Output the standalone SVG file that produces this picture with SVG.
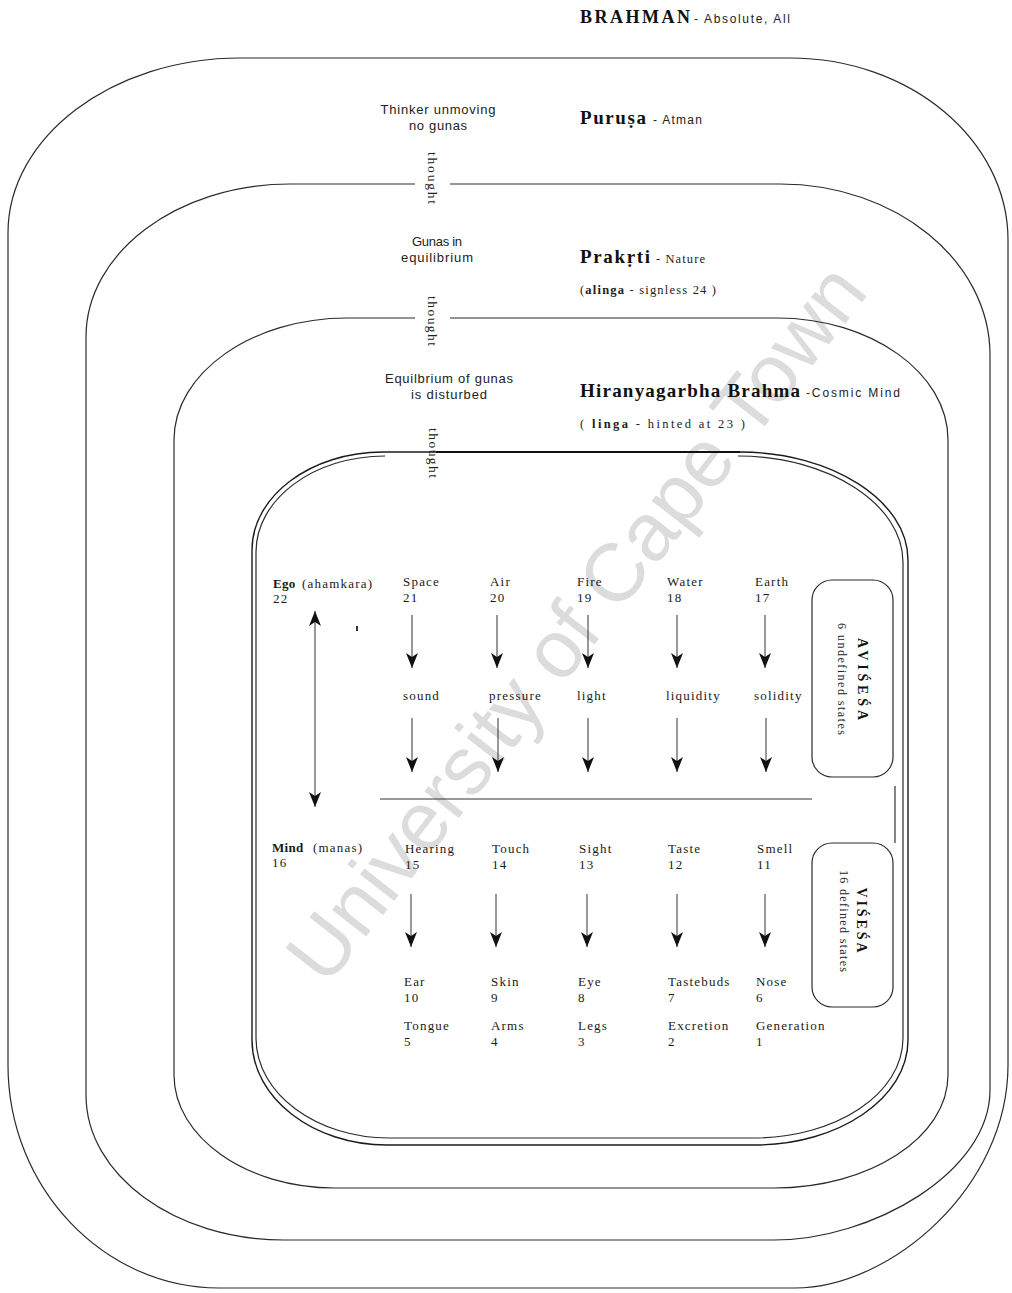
<svg xmlns="http://www.w3.org/2000/svg" width="1012" height="1293" viewBox="0 0 1012 1293">
<defs>
<style>
.bg{fill:#fff}
.wm{font-family:"Liberation Sans",Arial,sans-serif;font-size:82px;fill:#dcdcdc}
.ring{fill:none;stroke:#2a2a2a;stroke-width:1.2}
.ring2{fill:none;stroke:#1a1a1a;stroke-width:1.4}
.title{font-family:"Liberation Serif","Times New Roman",serif;font-weight:bold;fill:#111}
.sub{font-family:"Liberation Sans",Arial,sans-serif;font-size:12px;fill:#222}
.subs{font-family:"Liberation Serif","Times New Roman",serif;font-size:12.5px;fill:#222}
.sans{font-family:"Liberation Sans",Arial,sans-serif;font-size:13px;fill:#222}
.th{font-family:"Liberation Serif","Times New Roman",serif;font-size:13.5px;fill:#222}
.lbl{font-family:"Liberation Serif","Times New Roman",serif;font-size:13px;letter-spacing:1.2px;fill:#1a1a1a}
.b{font-weight:bold;letter-spacing:0.3px}
.box{fill:none;stroke:#2a2a2a;stroke-width:1.2}
.boxt{font-family:"Liberation Serif","Times New Roman",serif;font-size:14px;font-weight:bold;fill:#111}
.boxs{font-family:"Liberation Serif","Times New Roman",serif;font-size:12px;fill:#222}
.arr{fill:none;stroke:#333;stroke-width:1;marker-end:url(#ah)}
.arr2{fill:none;stroke:#333;stroke-width:1;marker-end:url(#ah);marker-start:url(#ah)}
.line{fill:none;stroke:#333;stroke-width:1.2}
</style>
<marker id="ah" markerUnits="userSpaceOnUse" markerWidth="20" markerHeight="16" viewBox="-16 -8 18 16" refX="0" refY="0" orient="auto-start-reverse">
<path d="M0,0 L-15,-6 L-11,0 L-15,6 Z" fill="#111"/>
</marker>
</defs>
<rect class="bg" x="0" y="0" width="1012" height="1293"/>
<text class="wm" transform="translate(598,640) rotate(-52)" text-anchor="middle">University of Cape Town</text>

<g id="brahman">
<path class="ring" d="M240,58 L790,58 C910,58 1008,140 1008,240 L1008,1065 C1008,1188 890,1288 795,1288 L219,1288 C104,1288 8,1188 8,1065 L8,233 C8,137 112,58 240,58 Z"/>
<text class="title" x="580" y="23" font-size="18" textLength="110" lengthAdjust="spacing">BRAHMAN</text>
<text class="sub" x="694" y="23" textLength="96" lengthAdjust="spacing">- Absolute, All</text>
</g>

<g id="purusa">
<path class="ring" d="M450,184 L780,184 C896,184 990,261 990,355 L990,1090 C990,1173 871,1240 774,1240 L284,1240 C175,1240 86,1175 86,1095 L86,337 C86,253 177,184 290,184 L415,184"/>
<text class="sans" x="438" y="114" text-anchor="middle" textLength="115" lengthAdjust="spacing">Thinker unmoving</text>
<text class="sans" x="438" y="130" text-anchor="middle" textLength="58" lengthAdjust="spacing">no gunas</text>
<text class="title" x="580" y="124" font-size="19" textLength="66" lengthAdjust="spacing">Puruṣa</text>
<text class="sub" x="653" y="124" textLength="49" lengthAdjust="spacing">- Atman</text>
</g>

<g id="prakrti">
<path class="ring" d="M450,318 L777,318 C871,318 948,373 948,440 L948,1075 C948,1137 870,1188 774,1188 L335,1188 C246,1188 174,1137 174,1075 L174,440 C174,373 252,318 347,318 L415,318"/>
<text class="sans" x="437" y="246" text-anchor="middle" textLength="50" lengthAdjust="spacing">Gunas in</text>
<text class="sans" x="437" y="262" text-anchor="middle" textLength="72" lengthAdjust="spacing">equilibrium</text>
<text class="title" x="580" y="263" font-size="19" textLength="70" lengthAdjust="spacing">Prakṛti</text>
<text class="subs" x="656" y="263" textLength="49" lengthAdjust="spacing">- Nature</text>
<text class="subs" x="580" y="294" textLength="136" lengthAdjust="spacing">(<tspan font-weight="bold">alinga</tspan> - signless 24 )</text>
</g>

<g id="hiranyagarbha">
<path class="ring2" d="M383,452 L740,452 C832,452 908,501 908,560 L908,1040 C908,1098 839,1145 755,1145 L387,1145 C313,1145 252,1098 252,1040 L252,550 C252,496 311,452 383,452 Z"/>
<path class="ring" d="M738,456 C828,456 903,504 903,562 L903,1038 C903,1094 836,1138 753,1138 L389,1138 C317,1138 256,1094 256,1038 L256,552 C256,499 314,456 385,456"/>
<line x1="436" y1="452" x2="740" y2="452" stroke="#111" stroke-width="2.2"/>
<text class="sans" x="449" y="383" text-anchor="middle" textLength="128" lengthAdjust="spacing">Equilbrium of gunas</text>
<text class="sans" x="449" y="399" text-anchor="middle" textLength="76" lengthAdjust="spacing">is disturbed</text>
<text class="title" x="580" y="397" font-size="19" textLength="220" lengthAdjust="spacing">Hiranyagarbha Brahma</text>
<text class="sub" x="806" y="397" textLength="94" lengthAdjust="spacing">-Cosmic Mind</text>
<text class="subs" x="580" y="428" textLength="165" lengthAdjust="spacing">( <tspan font-weight="bold">linga</tspan> - hinted at 23 )</text>
</g>

<g id="thought-labels">
<text class="th" transform="translate(428,178) rotate(90)" text-anchor="middle" textLength="52" lengthAdjust="spacing">thought</text>
<text class="th" transform="translate(428,321) rotate(90)" text-anchor="middle" textLength="50" lengthAdjust="spacing">thought</text>
<text class="th" transform="translate(429,453) rotate(90)" text-anchor="middle" textLength="50" lengthAdjust="spacing">thought</text>
</g>

<g id="ego"><text class="lbl" x="273" y="588"><tspan class="b">Ego</tspan><tspan x="302">(ahamkara)</tspan></text><text class="lbl" x="273" y="603">22</text></g>
<g id="space"><text class="lbl" x="403" y="586">Space</text><text class="lbl" x="403" y="602">21</text></g>
<g id="air"><text class="lbl" x="490" y="586">Air</text><text class="lbl" x="490" y="602">20</text></g>
<g id="fire"><text class="lbl" x="577" y="586">Fire</text><text class="lbl" x="577" y="602">19</text></g>
<g id="water"><text class="lbl" x="667" y="586">Water</text><text class="lbl" x="667" y="602">18</text></g>
<g id="earth"><text class="lbl" x="755" y="586">Earth</text><text class="lbl" x="755" y="602">17</text></g>

<g id="sound"><text class="lbl" x="403" y="700">sound</text></g>
<g id="pressure"><text class="lbl" x="489" y="700">pressure</text></g>
<g id="light"><text class="lbl" x="577" y="700">light</text></g>
<g id="liquidity"><text class="lbl" x="666" y="700">liquidity</text></g>
<g id="solidity"><text class="lbl" x="754" y="700">solidity</text></g>

<g id="avisesa">
<rect class="box" x="812" y="580" width="81" height="197" rx="20" ry="20"/>
<text class="boxt" transform="translate(858,679) rotate(90)" text-anchor="middle" textLength="82" lengthAdjust="spacing">AVIŚEŚA</text>
<text class="boxs" transform="translate(838,679) rotate(90)" text-anchor="middle" textLength="112" lengthAdjust="spacing">6 undefined states</text>
</g>

<g id="mind"><text class="lbl" x="272" y="852"><tspan class="b">Mind</tspan><tspan x="313">(manas)</tspan></text><text class="lbl" x="272" y="867">16</text></g>
<g id="hearing"><text class="lbl" x="405" y="853">Hearing</text><text class="lbl" x="405" y="869">15</text></g>
<g id="touch"><text class="lbl" x="492" y="853">Touch</text><text class="lbl" x="492" y="869">14</text></g>
<g id="sight"><text class="lbl" x="579" y="853">Sight</text><text class="lbl" x="579" y="869">13</text></g>
<g id="taste"><text class="lbl" x="668" y="853">Taste</text><text class="lbl" x="668" y="869">12</text></g>
<g id="smell"><text class="lbl" x="757" y="853">Smell</text><text class="lbl" x="757" y="869">11</text></g>

<g id="ear"><text class="lbl" x="404" y="986">Ear</text><text class="lbl" x="404" y="1002">10</text></g>
<g id="skin"><text class="lbl" x="491" y="986">Skin</text><text class="lbl" x="491" y="1002">9</text></g>
<g id="eye"><text class="lbl" x="578" y="986">Eye</text><text class="lbl" x="578" y="1002">8</text></g>
<g id="tastebuds"><text class="lbl" x="668" y="986">Tastebuds</text><text class="lbl" x="668" y="1002">7</text></g>
<g id="nose"><text class="lbl" x="756" y="986">Nose</text><text class="lbl" x="756" y="1002">6</text></g>

<g id="tongue"><text class="lbl" x="404" y="1030">Tongue</text><text class="lbl" x="404" y="1046">5</text></g>
<g id="arms"><text class="lbl" x="491" y="1030">Arms</text><text class="lbl" x="491" y="1046">4</text></g>
<g id="legs"><text class="lbl" x="578" y="1030">Legs</text><text class="lbl" x="578" y="1046">3</text></g>
<g id="excretion"><text class="lbl" x="668" y="1030">Excretion</text><text class="lbl" x="668" y="1046">2</text></g>
<g id="generation"><text class="lbl" x="756" y="1030">Generation</text><text class="lbl" x="756" y="1046">1</text></g>

<g id="visesa">
<rect class="box" x="812" y="843" width="81" height="164" rx="20" ry="20"/>
<text class="boxt" transform="translate(857,920) rotate(90)" text-anchor="middle" textLength="65" lengthAdjust="spacing">VIŚEŚA</text>
<text class="boxs" transform="translate(840,921) rotate(90)" text-anchor="middle" textLength="102" lengthAdjust="spacing">16 defined states</text>
</g>

<g id="connectors">
<line class="arr2" x1="315" y1="611" x2="315" y2="807"/>
<rect x="356" y="626" width="2" height="5" fill="#333"/>
<line class="arr" x1="412" y1="615" x2="412" y2="668"/>
<line class="arr" x1="497" y1="615" x2="497" y2="668"/>
<line class="arr" x1="588" y1="615" x2="588" y2="668"/>
<line class="arr" x1="677" y1="615" x2="677" y2="668"/>
<line class="arr" x1="765" y1="615" x2="765" y2="668"/>
<line class="arr" x1="412" y1="718" x2="412" y2="772"/>
<line class="arr" x1="498" y1="718" x2="498" y2="772"/>
<line class="arr" x1="588" y1="718" x2="588" y2="772"/>
<line class="arr" x1="677" y1="718" x2="677" y2="772"/>
<line class="arr" x1="766" y1="718" x2="766" y2="772"/>
<line class="line" x1="380" y1="799" x2="812" y2="799"/>
<line class="line" x1="895" y1="786" x2="895" y2="843"/>
<line class="arr" x1="411" y1="894" x2="411" y2="947"/>
<line class="arr" x1="496" y1="894" x2="496" y2="947"/>
<line class="arr" x1="587" y1="894" x2="587" y2="947"/>
<line class="arr" x1="677" y1="894" x2="677" y2="947"/>
<line class="arr" x1="765" y1="894" x2="765" y2="947"/>
</g>
</svg>
